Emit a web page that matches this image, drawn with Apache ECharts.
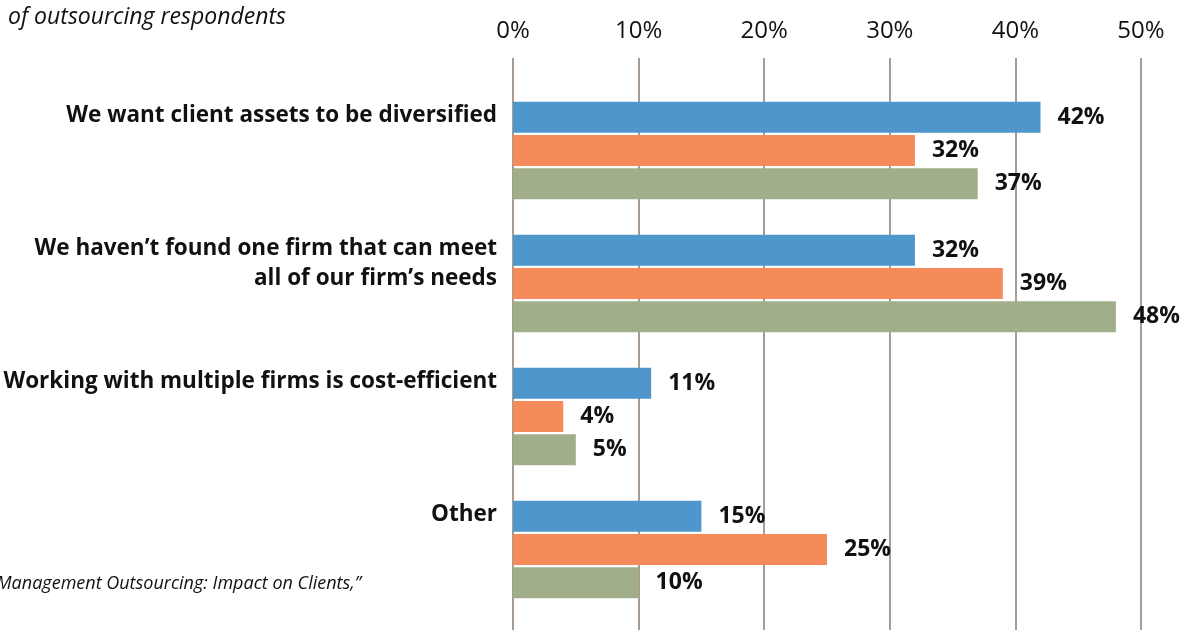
<!DOCTYPE html>
<html><head><meta charset="utf-8">
<script src="https://cdn.jsdelivr.net/npm/echarts@6/dist/echarts.min.js"></script>
<style>html,body{margin:0;padding:0;background:#fff}#c{width:1189px;height:630px}</style>
</head><body><div id="c"></div>
<script>
const categories = [
  "We want client assets to be diversified",
  "We haven\u2019t found one firm that can meet\nall of our firm\u2019s needs",
  "Working with multiple firms is cost-efficient",
  "Other"
];
const seriesNames = ["Series 1", "Series 2", "Series 3"];
const valuesBlue = [42, 32, 11, 15];
const valuesOrange = [32, 39, 4, 25];
const valuesGreen = [37, 48, 5, 10];
const axisMin = 0, axisMax = 50, axisStep = 10;
const subtitleText = "of outsourcing respondents";
const sourceText = "Management Outsourcing: Impact on Clients,\u201D";

const FONT = "Open Sans";
const colors = ["#4F96CC", "#F58B5B", "#A0AF8A"];
const chart = echarts.init(document.getElementById('c'), null, {renderer: 'canvas'});

const barLabel = {
  show: true, position: 'right', distance: 17,
  formatter: p => p.value + '%',
  fontFamily: FONT, fontWeight: 'bold', fontSize: 23, color: '#111'
};
const allValues = [valuesBlue, valuesOrange, valuesGreen];

chart.setOption({
  animation: false,
  backgroundColor: '#fff',
  grid: [
    {left: 513, right: 48, top: 58, bottom: -2, containLabel: false},
    {left: 513, right: 48, top: 84, bottom: 14, containLabel: false}
  ],
  xAxis: [
    {gridIndex: 0, type: 'value', position: 'top', min: axisMin, max: axisMax, interval: axisStep,
     axisLine: {show: false}, axisTick: {show: false},
     axisLabel: {formatter: '{value}%', margin: 15, fontFamily: FONT, fontSize: 24, color: '#111'},
     splitLine: {show: true, lineStyle: {color: '#A89C90', width: 2}}},
    {gridIndex: 1, type: 'value', min: axisMin, max: axisMax, interval: axisStep, show: false}
  ],
  yAxis: [
    {gridIndex: 0, type: 'value', show: false},
    {gridIndex: 1, type: 'category', data: categories, inverse: true,
     axisLine: {show: false}, axisTick: {show: false},
     axisLabel: {
       margin: 16, fontFamily: FONT, fontWeight: 'bold', fontSize: 22.5, color: '#111',
       lineHeight: 30, align: 'right', verticalAlign: 'middle',
       formatter: function (v) {
         const n = v.split('\n').length;
         return v + '\n{sp' + n + '| }';
       },
       rich: {sp1: {height: 70, lineHeight: 70, fontSize: 1}, sp2: {height: 40, lineHeight: 40, fontSize: 1}}
     }}
  ],
  series: allValues.map((vals, i) => ({
    name: seriesNames[i], type: 'bar', xAxisIndex: 1, yAxisIndex: 1,
    data: vals, barWidth: 31, barGap: '7%',
    itemStyle: {color: colors[i]},
    label: barLabel
  })),
  graphic: [
    {type: 'text', left: 8, top: 6, style: {text: subtitleText, fontFamily: FONT, fontStyle: 'italic', fontSize: 23, fill: '#111'}},
    {type: 'text', right: 1189 - 361, top: 575, style: {text: sourceText, fontFamily: FONT, fontStyle: 'italic', fontSize: 18, fill: '#111'}}
  ]
});
</script></body></html>
